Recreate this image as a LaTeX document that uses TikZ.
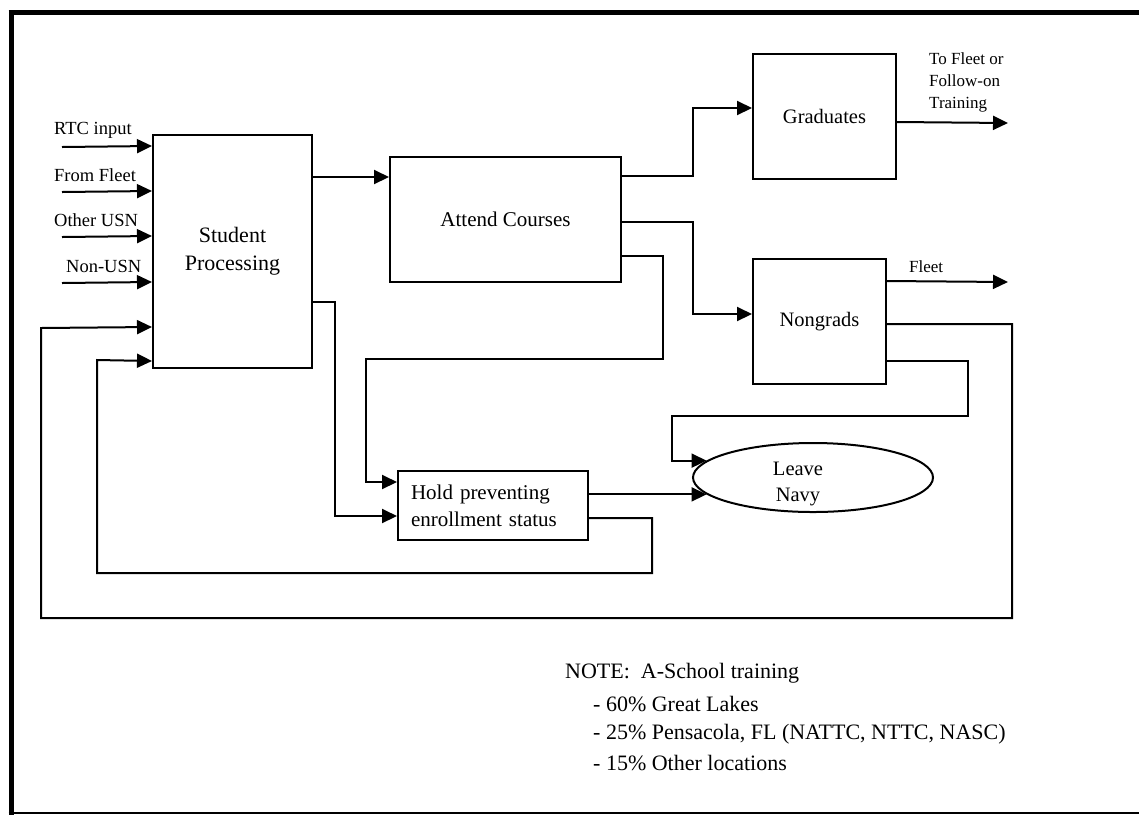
\documentclass[tikz,border=0pt]{standalone}
\usepackage{fontspec}
\setmainfont{Liberation Serif}
\usetikzlibrary{calc,arrows.meta,shapes.geometric}
\begin{document}
\begin{tikzpicture}[x=1pt,y=-1pt,
  box/.style={draw,line width=2pt,inner sep=0pt,align=center},
  flow/.style={line width=2pt,-{Triangle[length=15pt,width=14pt]}},
  inlbl/.style={inner sep=0pt,anchor=west,font=\fontsize{18.5}{22}\selectfont},
  outlbl/.style={inner sep=0pt,anchor=west,align=left,font=\fontsize{17}{22}\selectfont},
  notelbl/.style={inner sep=0pt,anchor=west,font=\fontsize{22}{30}\selectfont}]
\useasboundingbox (0,0) rectangle (1139,815);
% frame
\draw[line width=5pt] (11,10) -- (11,815);
\draw[line width=5pt] (8.5,12.5) -- (1139,12.5);
\draw[line width=2pt] (8.5,813) -- (1139,813);
% nodes
\node[box,minimum width=159pt,minimum height=233pt,font=\fontsize{22}{28}\selectfont] (sp) at (232.5,251.5) {Student\\Processing};
\node[box,minimum width=231pt,minimum height=125pt,font=\fontsize{21}{26}\selectfont] (ac) at (505.5,219.5) {Attend Courses};
\node[box,minimum width=143pt,minimum height=125pt,font=\fontsize{20.5}{26}\selectfont] (gr) at (824.5,116.5) {Graduates};
\node[box,minimum width=133pt,minimum height=125pt,font=\fontsize{20.5}{26}\selectfont] (ng) at (819.5,321.5) {Nongrads};
\node[draw,line width=2pt,inner xsep=13pt,inner ysep=0pt,text width=164pt,align=left,minimum height=69pt,font=\fontsize{21}{27}\selectfont] (hd) at (493,505.5) {Hold preventing\\enrollment status};
\node[ellipse,draw,line width=2pt,inner sep=0pt,minimum width=240pt,minimum height=69pt] (ln) at (813,477.5) {};
\node[inner sep=0pt,align=center,font=\fontsize{20.5}{26}\selectfont] (lnt) at (798,484) {Leave\\Navy};
% input labels
\node[inlbl] (l1) at (54,130) {RTC input};
\node[inlbl] (l2) at (54,175) {From Fleet};
\node[inlbl] (l3) at (54,220) {Other USN};
\node[inlbl] (l4) at (66,266) {Non-USN};
\node[outlbl] (l5) at (929,82) {To Fleet or\\Follow-on\\Training};
\node[outlbl] (l6) at (909,267) {Fleet};
% free ends
\coordinate (in1) at (62,147);
\coordinate (in2) at (62,192);
\coordinate (in3) at (62,237);
\coordinate (in4) at (62,283);
\coordinate (out1) at (1008,123);
\coordinate (out2) at (1008,282);
% connectors
\draw[flow] (in1) -- ($(sp.north west)+(0,12)$);
\draw[flow] (in2) -- ($(sp.north west)+(0,57)$);
\draw[flow] (in3) -- ($(sp.north west)+(0,102)$);
\draw[flow] (in4) -- ($(sp.north west)+(0,148)$);
\draw[flow] ($(sp.north east)+(0,43)$) -- ($(ac.north west)+(0,21)$);
\draw[flow] ($(sp.north east)+(0,168)$) -- ++(22,0) |- ($(hd.north west)+(0,46)$);
\draw[flow] ($(ac.north east)+(0,20)$) -- ++(71,0) |- ($(gr.north west)+(0,55)$);
\draw[flow] ($(ac.north east)+(0,66)$) -- ++(71,0) |- ($(ng.north west)+(0,56)$);
\draw[flow] ($(ac.north east)+(0,100)$) -- ++(41,0) |- (366,359) |- ($(hd.north west)+(0,12)$);
\draw[flow] ($(gr.north east)+(0,69)$) -- (out1);
\draw[flow] ($(ng.north east)+(0,23)$) -- (out2);
\draw[flow] ($(ng.north east)+(0,66)$) -| (1012,618) -| (41,328) -- ($(sp.north west)+(0,193)$);
\draw[flow] ($(ng.south east)+(0,-24)$) -- ++(81,0) |- (672,416) |- (ln.171);
\draw[flow] (hd.east |- ln.189) -- (ln.189);
\draw[flow] ($(hd.south east)+(0,-23)$) -| (652,573) -| (97,360) -- ($(sp.south west)+(0,-8)$);
% note
\node[notelbl] (n1) at (565,673) {NOTE:\ \ A-School training};
\node[notelbl] (n2) at (593,704) {- 60\% Great Lakes};
\node[notelbl] (n3) at (593,734) {- 25\% Pensacola, FL (NATTC, NTTC, NASC)};
\node[notelbl] (n4) at (593,763) {- 15\% Other locations};
\end{tikzpicture}
\end{document}
